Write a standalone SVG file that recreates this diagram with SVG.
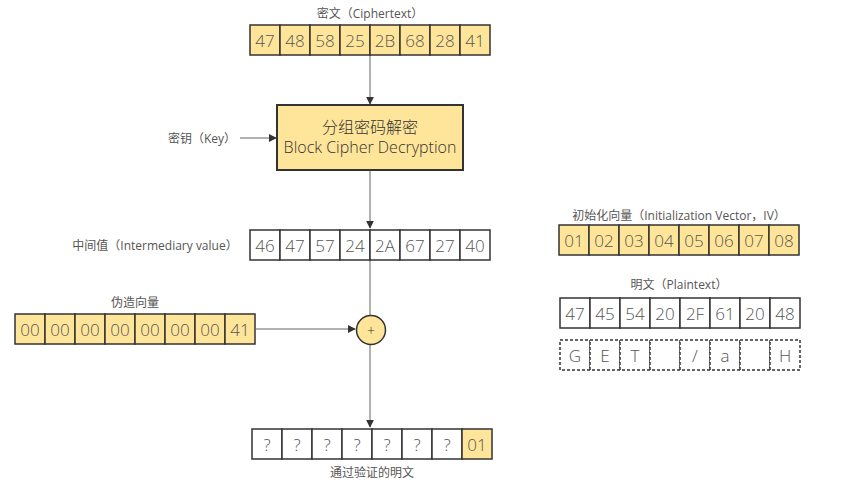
<svg xmlns="http://www.w3.org/2000/svg" width="843" height="495" viewBox="0 0 843 495">
<defs>
<marker id="ah" viewBox="0 0 10 10" refX="9" refY="5" markerWidth="8" markerHeight="8" markerUnits="userSpaceOnUse" orient="auto">
<path d="M0,0 L10,5 L0,10 Z" fill="#333"/>
</marker>
<style>
.y{fill:#FFE599;stroke:#333;stroke-width:1.5}
.w{fill:#fff;stroke:#333;stroke-width:1.5}
.d{fill:#fff;stroke:#333;stroke-width:1.5;stroke-dasharray:3 2}
.c{font-family:"Open Sans","Liberation Sans",sans-serif;font-weight:300;font-size:17px;fill:#555;text-anchor:middle;dominant-baseline:central}
.l{font-family:"Open Sans","Noto Sans CJK SC",sans-serif;font-size:12px;fill:#555;text-anchor:middle;dominant-baseline:central}
.b{font-family:"Open Sans","Noto Sans CJK SC",sans-serif;font-weight:300;font-size:16px;fill:#333;text-anchor:middle;dominant-baseline:central}
.ln{stroke:#999;stroke-width:1.5;fill:none}
</style>
</defs>
<rect width="843" height="495" fill="#fff"/>

<g id="connectors">
<line class="ln" x1="370" y1="55" x2="370" y2="104" marker-end="url(#ah)"/>
<line class="ln" x1="240" y1="138" x2="276" y2="138" marker-end="url(#ah)"/>
<line class="ln" x1="370" y1="171" x2="370" y2="228" marker-end="url(#ah)"/>
<line class="ln" x1="370" y1="260" x2="370" y2="427" marker-end="url(#ah)"/>
<line class="ln" x1="256" y1="329" x2="355" y2="329" marker-end="url(#ah)"/>
</g>

<g id="ciphertext">
<text class="l" x="370" y="13">密文（Ciphertext）</text>
<rect class="y" x="250" y="25" width="30" height="30"/><text class="c" x="265" y="40">47</text>
<rect class="y" x="280" y="25" width="30" height="30"/><text class="c" x="295" y="40">48</text>
<rect class="y" x="310" y="25" width="30" height="30"/><text class="c" x="325" y="40">58</text>
<rect class="y" x="340" y="25" width="30" height="30"/><text class="c" x="355" y="40">25</text>
<rect class="y" x="370" y="25" width="30" height="30"/><text class="c" x="385" y="40">2B</text>
<rect class="y" x="400" y="25" width="30" height="30"/><text class="c" x="415" y="40">68</text>
<rect class="y" x="430" y="25" width="30" height="30"/><text class="c" x="445" y="40">28</text>
<rect class="y" x="460" y="25" width="30" height="30"/><text class="c" x="475" y="40">41</text>
</g>

<g id="key">
<text class="l" x="202" y="138">密钥（Key）</text>
</g>

<g id="decrypt">
<rect class="y" x="277" y="105" width="186" height="65" style="stroke-width:2"/>
<text class="b" x="370" y="127">分组密码解密</text>
<text class="b" x="370" y="147">Block Cipher Decryption</text>
</g>

<g id="intermediary">
<text class="l" x="155" y="245">中间值（Intermediary value）</text>
<rect class="w" x="250" y="230" width="30" height="30"/><text class="c" x="265" y="245">46</text>
<rect class="w" x="280" y="230" width="30" height="30"/><text class="c" x="295" y="245">47</text>
<rect class="w" x="310" y="230" width="30" height="30"/><text class="c" x="325" y="245">57</text>
<rect class="w" x="340" y="230" width="30" height="30"/><text class="c" x="355" y="245">24</text>
<rect class="w" x="370" y="230" width="30" height="30"/><text class="c" x="385" y="245">2A</text>
<rect class="w" x="400" y="230" width="30" height="30"/><text class="c" x="415" y="245">67</text>
<rect class="w" x="430" y="230" width="30" height="30"/><text class="c" x="445" y="245">27</text>
<rect class="w" x="460" y="230" width="30" height="30"/><text class="c" x="475" y="245">40</text>
</g>

<g id="forged">
<text class="l" x="135" y="302">伪造向量</text>
<rect class="y" x="15" y="314" width="30" height="30"/><text class="c" x="30" y="329">00</text>
<rect class="y" x="45" y="314" width="30" height="30"/><text class="c" x="60" y="329">00</text>
<rect class="y" x="75" y="314" width="30" height="30"/><text class="c" x="90" y="329">00</text>
<rect class="y" x="105" y="314" width="30" height="30"/><text class="c" x="120" y="329">00</text>
<rect class="y" x="135" y="314" width="30" height="30"/><text class="c" x="150" y="329">00</text>
<rect class="y" x="165" y="314" width="30" height="30"/><text class="c" x="180" y="329">00</text>
<rect class="y" x="195" y="314" width="30" height="30"/><text class="c" x="210" y="329">00</text>
<rect class="y" x="225" y="314" width="30" height="30"/><text class="c" x="240" y="329">41</text>
</g>

<g id="xor">
<circle class="y" cx="371" cy="330" r="14.5"/>
<text class="l" x="371" y="330" style="font-size:14px;font-weight:300;fill:#333">+</text>
</g>

<g id="result">
<rect class="w" x="252" y="429" width="30" height="30"/><text class="c" x="267" y="444">?</text>
<rect class="w" x="282" y="429" width="30" height="30"/><text class="c" x="297" y="444">?</text>
<rect class="w" x="312" y="429" width="30" height="30"/><text class="c" x="327" y="444">?</text>
<rect class="w" x="342" y="429" width="30" height="30"/><text class="c" x="357" y="444">?</text>
<rect class="w" x="372" y="429" width="30" height="30"/><text class="c" x="387" y="444">?</text>
<rect class="w" x="402" y="429" width="30" height="30"/><text class="c" x="417" y="444">?</text>
<rect class="w" x="432" y="429" width="30" height="30"/><text class="c" x="447" y="444">?</text>
<rect class="y" x="462" y="429" width="30" height="30"/><text class="c" x="477" y="444">01</text>
<text class="l" x="372" y="472">通过验证的明文</text>
</g>

<g id="iv">
<text class="l" x="679" y="215">初始化向量（Initialization Vector，IV）</text>
<rect class="y" x="559" y="225" width="30" height="30"/><text class="c" x="574" y="240">01</text>
<rect class="y" x="589" y="225" width="30" height="30"/><text class="c" x="604" y="240">02</text>
<rect class="y" x="619" y="225" width="30" height="30"/><text class="c" x="634" y="240">03</text>
<rect class="y" x="649" y="225" width="30" height="30"/><text class="c" x="664" y="240">04</text>
<rect class="y" x="679" y="225" width="30" height="30"/><text class="c" x="694" y="240">05</text>
<rect class="y" x="709" y="225" width="30" height="30"/><text class="c" x="724" y="240">06</text>
<rect class="y" x="739" y="225" width="30" height="30"/><text class="c" x="754" y="240">07</text>
<rect class="y" x="769" y="225" width="30" height="30"/><text class="c" x="784" y="240">08</text>
</g>

<g id="plaintext">
<text class="l" x="679" y="284">明文（Plaintext）</text>
<rect class="w" x="560" y="298" width="30" height="30"/><text class="c" x="575" y="313">47</text>
<rect class="w" x="590" y="298" width="30" height="30"/><text class="c" x="605" y="313">45</text>
<rect class="w" x="620" y="298" width="30" height="30"/><text class="c" x="635" y="313">54</text>
<rect class="w" x="650" y="298" width="30" height="30"/><text class="c" x="665" y="313">20</text>
<rect class="w" x="680" y="298" width="30" height="30"/><text class="c" x="695" y="313">2F</text>
<rect class="w" x="710" y="298" width="30" height="30"/><text class="c" x="725" y="313">61</text>
<rect class="w" x="740" y="298" width="30" height="30"/><text class="c" x="755" y="313">20</text>
<rect class="w" x="770" y="298" width="30" height="30"/><text class="c" x="785" y="313">48</text>
</g>

<g id="ascii">
<rect class="d" x="560" y="340" width="30" height="30"/><text class="c" x="575" y="355">G</text>
<rect class="d" x="590" y="340" width="30" height="30"/><text class="c" x="605" y="355">E</text>
<rect class="d" x="620" y="340" width="30" height="30"/><text class="c" x="635" y="355">T</text>
<rect class="d" x="650" y="340" width="30" height="30"/>
<rect class="d" x="680" y="340" width="30" height="30"/><text class="c" x="695" y="355">/</text>
<rect class="d" x="710" y="340" width="30" height="30"/><text class="c" x="725" y="355">a</text>
<rect class="d" x="740" y="340" width="30" height="30"/>
<rect class="d" x="770" y="340" width="30" height="30"/><text class="c" x="785" y="355">H</text>
</g>
</svg>
